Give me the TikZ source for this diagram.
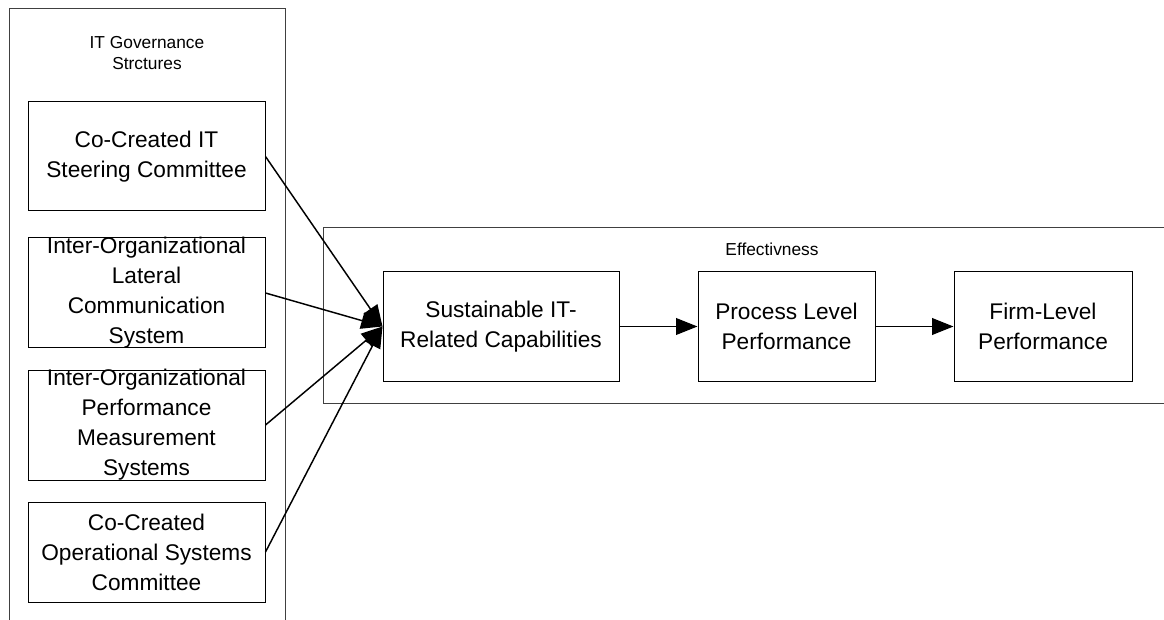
\documentclass[tikz,border=0pt]{standalone}
\usepackage{fontspec}
\setmainfont{Liberation Sans}
\usetikzlibrary{arrows.meta}
\tikzset{
  frame/.style={draw=black!75, line width=0.75pt},
  box/.style={draw=black, line width=0.75pt, rectangle, inner sep=0pt},
  txt/.style={align=center, inner sep=0pt, font=\fontsize{17}{22.5}\selectfont},
  small/.style={align=center, inner sep=0pt, font=\fontsize{13}{16}\selectfont},
  link/.style={draw=black, line width=1.1pt, -{Triangle[length=16pt,width=12.5pt]}},
}
\begin{document}
\begin{tikzpicture}[x=0.75pt, y=-0.75pt]
\useasboundingbox (0,0) rectangle (1164,620);
\clip (0,0) rectangle (1164,620);
% outer frames
\draw[frame] (9,630) -- (9,9) -- (285,9) -- (285,630);
\draw[frame] (1175,228) -- (323,228) -- (323,403) -- (1175,403);
\node[small] (gtitle) at (147,53) {IT Governance\\Strctures};
\node[small] (etitle) at (772,249) {Effectivness};
% left boxes
\node[box, minimum width=237*0.75pt, minimum height=109*0.75pt] (b1) at (146.5,156.5) {};
\node[txt] (t1) at (b1.center) {Co-Created IT\\Steering Committee};
\node[box, minimum width=237*0.75pt, minimum height=110*0.75pt] (b2) at (146.5,293) {};
\node[txt] (t2) at (b2.center) {Inter-Organizational\\Lateral\\Communication\\System};
\node[box, minimum width=237*0.75pt, minimum height=110*0.75pt] (b3) at (146.5,425) {};
\node[txt] (t3) at (b3.center) {Inter-Organizational\\Performance\\Measurement\\Systems};
\node[box, minimum width=237*0.75pt, minimum height=100*0.75pt] (b4) at (146.5,552) {};
\node[txt] (t4) at (b4.center) {Co-Created\\Operational Systems\\Committee};
% right boxes
\node[box, minimum width=236*0.75pt, minimum height=109*0.75pt] (ba) at (501,326.5) {};
\node[txt] (ta) at (ba.center) {Sustainable IT-\\Related Capabilities};
\node[box, minimum width=177*0.75pt, minimum height=109*0.75pt] (bb) at (786.5,326.5) {};
\node[txt] (tb) at (bb.center) {Process Level\\Performance};
\node[box, minimum width=178*0.75pt, minimum height=109*0.75pt] (bc) at (1043,326.5) {};
\node[txt] (tc) at (bc.center) {Firm-Level\\Performance};
% connectors
\draw[link] (b1.east) -- (ba.west);
\draw[link] (b2.east) -- (ba.west);
\draw[link] (b3.east) -- (ba.west);
\draw[link] (b4.east) -- (ba.west);
\draw[link] (ba.east) -- (bb.west);
\draw[link] (bb.east) -- (bc.west);
\end{tikzpicture}
\end{document}
